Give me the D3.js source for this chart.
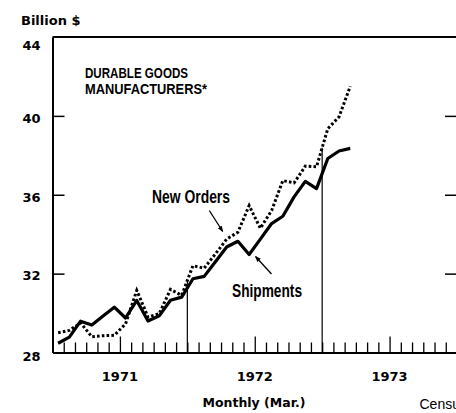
<!DOCTYPE html>
<html>
<head>
<meta charset="utf-8">
<script src="https://cdn.jsdelivr.net/npm/d3@7"></script>
<style>
  html, body { margin: 0; padding: 0; background: #fff; }
  svg { display: block; }
</style>
</head>
<body>
<svg id="chart" width="456" height="413"></svg>
<script>
// Monthly series, Jan 1971 through Mar 1973 (billion $)
const months = [
  "1971-01","1971-02","1971-03","1971-04","1971-05","1971-06",
  "1971-07","1971-08","1971-09","1971-10","1971-11","1971-12",
  "1972-01","1972-02","1972-03","1972-04","1972-05","1972-06",
  "1972-07","1972-08","1972-09","1972-10","1972-11","1972-12",
  "1973-01","1973-02","1973-03"
];
const newOrders = [
  29.0, 29.12, 29.5, 28.8, 28.85, 28.87, 29.45, 31.15, 29.8, 29.97, 31.2, 30.9,
  32.4, 32.28, 33.0, 33.75, 34.1, 35.45, 34.3, 35.2, 36.72, 36.6, 37.45, 37.42,
  39.35, 39.95, 41.5
];
const shipments = [
  28.47, 28.78, 29.59, 29.39, 29.85, 30.3, 29.75, 30.64, 29.6, 29.86, 30.65, 30.81,
  31.74, 31.86, 32.6, 33.35, 33.64, 32.97, 33.75, 34.54, 34.91, 35.89, 36.68, 36.31,
  37.84, 38.22, 38.35
];
const yTicks = [28, 32, 36, 40, 44];
const years = ["1971", "1972", "1973"];

const boldGeo = "'DejaVu Sans', sans-serif";
const narrow = "'Liberation Sans Narrow', 'Arial Narrow', 'Liberation Sans', Arial, sans-serif";

const svg = d3.select("#chart");
const plotL = 52.5, plotR = 457, plotT = 37, plotB = 352.5;

// x runs in month units from the start of 1971 (36 months shown)
const x = d3.scaleLinear().domain([0, 36]).range([plotL, plotR]);
const y = d3.scaleLinear().domain([28, 44]).range([plotB, plotT]);

// Unit label
svg.append("text")
  .attr("x", 21).attr("y", 25)
  .attr("font-family", boldGeo).attr("font-weight", "bold").attr("font-size", 13)
  .text("Billion $");

// Left axis: inward ticks, labels outside
const yAxis = svg.append("g")
  .attr("transform", `translate(${plotL},0)`)
  .call(d3.axisLeft(y).tickValues(yTicks).tickSize(-12).tickSizeOuter(0).tickPadding(12));
yAxis.select(".domain").attr("stroke", "#000").attr("stroke-width", 2);
yAxis.selectAll(".tick line").attr("stroke", "#000").attr("stroke-width", 1.5)
  .attr("opacity", d => (d === 28 || d === 44) ? 0 : 1);
yAxis.selectAll(".tick text")
  .attr("font-family", boldGeo).attr("font-weight", "bold").attr("font-size", 13)
  .attr("fill", "#000")
  .attr("dy", d => d === 44 ? "0.95em" : d === 28 ? "0.62em" : "0.48em");

// Right-side ticks
const yRight = svg.append("g")
  .attr("transform", `translate(${plotR},0)`)
  .call(d3.axisRight(y).tickValues([32, 36, 40]).tickSize(-12).tickSizeOuter(0).tickFormat(""));
yRight.select(".domain").attr("stroke", "#000").attr("stroke-width", 2);
yRight.selectAll(".tick line").attr("stroke", "#000").attr("stroke-width", 1.5);

// Top frame line
svg.append("line")
  .attr("x1", plotL).attr("x2", plotR).attr("y1", y(44)).attr("y2", y(44))
  .attr("stroke", "#000").attr("stroke-width", 2);

// Bottom axis: month ticks, taller ones at mid-year
const xAxis = svg.append("g")
  .attr("transform", `translate(0,${plotB})`)
  .call(d3.axisBottom(x).tickValues(d3.range(1, 36)).tickSize(-10).tickSizeOuter(0).tickFormat(""));
xAxis.select(".domain").attr("stroke", "#000").attr("stroke-width", 2);
xAxis.selectAll(".tick line")
  .attr("stroke", "#000").attr("stroke-width", 1.3)
  .attr("y2", d => d % 12 === 6 ? -16 : -10);

// Year labels centred on each year
svg.append("g").selectAll("text").data(years).join("text")
  .attr("x", (d, i) => x(i * 12 + 6)).attr("y", 380.5)
  .attr("text-anchor", "middle")
  .attr("font-family", boldGeo).attr("font-weight", "bold").attr("font-size", 13)
  .text(d => d);

svg.append("text")
  .attr("x", 254).attr("y", 406.5).attr("text-anchor", "middle")
  .attr("font-family", boldGeo).attr("font-weight", "bold").attr("font-size", 12.5)
  .text("Monthly (Mar.)");

svg.append("text")
  .attr("x", 419.5).attr("y", 408.5)
  .attr("font-family", narrow).attr("font-size", 14)
  .text("Census");

// Year dividers from the axis up to the higher of the two lines
[12, 24].forEach(m => {
  const v = Math.max((newOrders[m - 1] + newOrders[m]) / 2, (shipments[m - 1] + shipments[m]) / 2);
  svg.append("line")
    .attr("x1", x(m)).attr("x2", x(m)).attr("y1", plotB).attr("y2", y(v))
    .attr("stroke", "#000").attr("stroke-width", 1.2);
});

// Series lines
const line = d3.line().x((d, i) => x(i + 0.5)).y(d => y(d));
svg.append("path").datum(shipments)
  .attr("d", line).attr("fill", "none")
  .attr("stroke", "#000").attr("stroke-width", 3.2).attr("stroke-linejoin", "round");
svg.append("path").datum(newOrders)
  .attr("d", line).attr("fill", "none")
  .attr("stroke", "#000").attr("stroke-width", 3).attr("stroke-dasharray", "2.6,2.2");

// Title
const title = svg.append("g")
  .attr("font-family", narrow).attr("font-weight", "bold").attr("font-size", 15.5);
title.append("text").attr("x", 85).attr("y", 77.5)
  .attr("textLength", 103).attr("lengthAdjust", "spacingAndGlyphs")
  .text("DURABLE GOODS");
title.append("text").attr("x", 85).attr("y", 94)
  .attr("textLength", 122).attr("lengthAdjust", "spacingAndGlyphs")
  .text("MANUFACTURERS*");

// Series annotations with arrows
svg.append("defs").append("marker")
  .attr("id", "head").attr("viewBox", "0 0 10 10")
  .attr("refX", 9).attr("refY", 5)
  .attr("markerWidth", 6).attr("markerHeight", 6)
  .attr("markerUnits", "userSpaceOnUse").attr("orient", "auto")
  .append("path").attr("d", "M0,1 L10,5 L0,9 Z").attr("fill", "#000");

svg.append("text")
  .attr("x", 152).attr("y", 203)
  .attr("font-family", narrow).attr("font-weight", "bold").attr("font-size", 18.5)
  .attr("textLength", 78).attr("lengthAdjust", "spacingAndGlyphs")
  .text("New Orders");
svg.append("line")
  .attr("x1", 209.3).attr("y1", 210.5).attr("x2", 222.7).attr("y2", 231.5)
  .attr("stroke", "#000").attr("stroke-width", 1.3).attr("marker-end", "url(#head)");

svg.append("text")
  .attr("x", 232).attr("y", 296.5)
  .attr("font-family", narrow).attr("font-weight", "bold").attr("font-size", 18.5)
  .attr("textLength", 70).attr("lengthAdjust", "spacingAndGlyphs")
  .text("Shipments");
svg.append("line")
  .attr("x1", 271.5).attr("y1", 274).attr("x2", 255.5).attr("y2", 256.5)
  .attr("stroke", "#000").attr("stroke-width", 1.3).attr("marker-end", "url(#head)");
</script>
</body>
</html>
